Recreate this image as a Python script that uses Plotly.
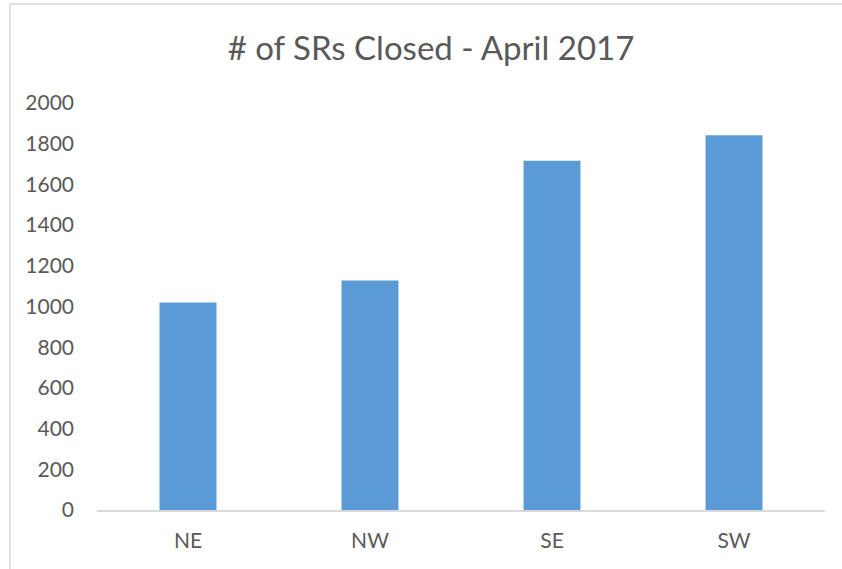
import plotly.graph_objects as go

regions = ["NE", "NW", "SE", "SW"]
closed = [1020, 1128, 1716, 1841]
y_ticks = [0, 200, 400, 600, 800, 1000, 1200, 1400, 1600, 1800, 2000]

W, H = 842, 569
ML, MR, MT, MB = 97, 17, 103, 59
pw = W - ML - MR
ph = H - MT - MB

def px(x):
    return (x - ML) / pw

def py(y):
    return (H - MB - y) / ph

fig = go.Figure(go.Bar(
    x=regions, y=closed,
    marker=dict(color="#5B9BD5", line=dict(width=0)),
))

fig.update_layout(
    width=W, height=H,
    margin=dict(l=ML, r=MR, t=MT, b=MB, pad=0),
    paper_bgcolor="white", plot_bgcolor="white",
    bargap=0.687,
    showlegend=False,
    font=dict(family="Lato, 'Open Sans', sans-serif", color="#595959"),
    title=dict(text="# of SRs Closed - April 2017", x=431 / W, xanchor="center",
               y=1 - 48 / H, yanchor="middle", yref="container",
               font=dict(size=33, color="#595959")),
    xaxis=dict(showgrid=False, showline=True, linecolor="#D9D9D9", linewidth=1.5,
               ticks="", tickfont=dict(size=21, color="#595959"), ticklabelstandoff=11),
    yaxis=dict(range=[0, 2000], tickvals=y_ticks, showgrid=False, showline=False,
               zeroline=False, ticks="", tickfont=dict(size=21, color="#595959"),
               ticklabelstandoff=22),
    shapes=[
        dict(type="line", xref="paper", yref="paper", x0=px(10), x1=px(10),
             y0=py(H + 5), y1=py(4), line=dict(color="#D9D9D9", width=1.5)),
        dict(type="line", xref="paper", yref="paper", x0=px(10), x1=px(W + 5),
             y0=py(4), y1=py(4), line=dict(color="#D9D9D9", width=1.5)),
    ],
)

fig.write_html(
    "out.html",
    config={"displayModeBar": False},
    post_script="document.body.style.margin='0';document.body.style.overflow='hidden';",
)
